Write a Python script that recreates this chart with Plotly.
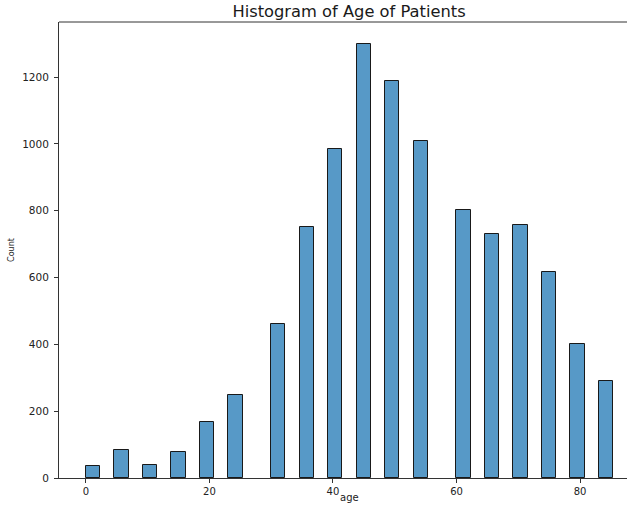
import plotly.graph_objects as go

# Histogram bins: left edge of each occupied bin (years) and patient count
bin_left = [0.0, 4.61, 9.23, 13.84, 18.46, 23.07, 29.99, 34.61, 39.22,
            43.84, 48.45, 53.07, 59.99, 64.60, 69.22, 73.83, 78.45, 83.06]
counts = [37, 85, 38, 77, 169, 247, 462, 752, 984,
          1300, 1187, 1009, 803, 731, 756, 617, 402, 289]
bin_width = 2.307

x_ticks = [0, 20, 40, 60, 80]
y_ticks = [0, 200, 400, 600, 800, 1000, 1200]

centers = [b + bin_width / 2 for b in bin_left]

fig = go.Figure(
    go.Bar(
        x=centers,
        y=counts,
        width=[bin_width] * len(counts),
        marker=dict(color="rgb(87,153,199)",
                    line=dict(color="rgb(25,25,25)", width=1)),
        hoverinfo="x+y",
    )
)

font = "DejaVu Sans, sans-serif"
fig.update_layout(
    width=627, height=506,
    margin=dict(l=59, r=0, t=22, b=28),
    plot_bgcolor="white", paper_bgcolor="white",
    showlegend=False,
    bargap=0,
    font=dict(family=font, color="#222", size=10),
    title=dict(text="Histogram of Age of Patients", xref="paper", x=0.5106,
               xanchor="center", y=0.988, yanchor="top",
               font=dict(family=font, size=16.3, color="#1a1a1a")),
    xaxis=dict(
        range=[-4.35, 87.6],
        tickmode="array", tickvals=x_ticks,
        ticks="outside", ticklen=4, tickcolor="#333",
        showline=True, linecolor="#333", linewidth=1, mirror=False,
        showgrid=False, zeroline=False,
        tickfont=dict(size=10),
    ),
    yaxis=dict(
        range=[0, 1365],
        tickmode="array", tickvals=y_ticks,
        ticks="outside", ticklen=4, tickcolor="#333",
        showline=True, linecolor="#333", linewidth=1,
        showgrid=False, zeroline=False,
        tickfont=dict(size=10.5), ticklabelstandoff=3,
        title=dict(text="Count", font=dict(size=8), standoff=6),
    ),
)

# x-axis title, centred under the full axes span
fig.add_annotation(text="age", xref="paper", yref="paper", x=0.5106, y=0,
                   xanchor="center", yanchor="top", yshift=-13, borderpad=0,
                   showarrow=False, font=dict(size=10, color="#222"))

# top spine
fig.add_shape(type="line", xref="paper", yref="paper", x0=0, x1=1, y0=1, y1=1,
              line=dict(color="#333", width=1))

fig.write_html("out.html")
